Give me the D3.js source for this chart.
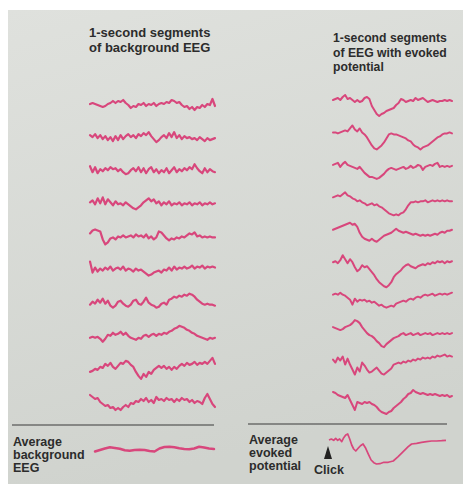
<!DOCTYPE html>
<html><head><meta charset="utf-8">
<script src="https://cdn.jsdelivr.net/npm/d3@7"></script>
<style>
html,body{margin:0;padding:0;background:#fff;}
svg{display:block;}
text{font-family:"Liberation Sans",Arial,Helvetica,sans-serif;font-weight:bold;fill:#2c2c2c;}
</style></head>
<body>
<script>
// ---- data (amplitude units, positive = up; 50 samples across each 1-second segment) ----
const leftTitle = ["1-second segments", "of background EEG"];
const rightTitle = ["1-second segments", "of EEG with evoked", "potential"];
const avgBgLabel = ["Average", "background", "EEG"];
const avgEvLabel = ["Average", "evoked", "potential"];
const stimulusLabel = "Click";

const bg1 = [0,1,0,-1,-2,-3,-2,0,1,3,1,3,2,4,1,-1,-4,-2,-3,0,-1,1,-2,0,-1,1,-2,0,1,0,2,1,4,3,1,2,-1,-3,-2,-5,-3,-6,-3,-4,-1,-3,0,-1,5,-2];
const bg2 = [2,0,3,-1,2,-2,1,-3,0,-4,1,-3,2,-2,1,3,0,2,-1,3,1,4,2,5,1,-2,-5,-3,0,2,-1,4,0,5,-1,2,-2,1,-1,0,-2,-1,-3,0,-2,-4,-1,-3,-2,-1];
const bg3 = [4,-2,3,-3,1,-1,2,0,3,1,2,-1,1,-2,-4,-3,0,2,-1,3,-2,2,-3,1,3,-2,1,-3,0,-2,2,-3,0,3,-2,1,-1,2,0,3,1,6,2,-1,-3,2,-2,1,-1,-2];
const bg4 = [1,3,-1,5,0,6,-1,4,1,-2,2,-1,0,-2,1,-1,-3,-5,-6,-4,-2,1,3,5,2,4,0,2,-2,1,-1,2,-2,0,-1,1,-2,0,-1,1,-2,0,-1,1,-2,0,-1,1,-1,0];
const bg5 = [3,6,7,6,5,-3,-8,-6,-2,-1,-3,0,-1,1,-1,0,1,-1,2,0,1,-1,2,-2,0,-3,-1,5,4,1,-2,-4,-2,-3,-1,-2,0,-1,1,3,2,4,0,1,-1,0,-1,0,-1,-1];
const bg6 = [8,-3,2,-2,1,-1,2,0,3,-1,1,2,0,3,-1,1,0,-2,1,-1,0,-2,-4,-6,-5,-3,-2,-1,-3,0,-1,2,-1,3,0,2,1,3,1,2,4,1,3,2,4,1,3,2,3,2];
const bg7 = [-2,1,-1,3,0,4,-1,2,-3,-5,-3,1,2,-1,-3,-4,-2,2,3,-1,-2,1,5,0,-2,-3,-5,-4,-1,0,-2,3,4,6,5,7,6,8,7,9,8,6,3,1,-1,-2,-1,-2,-2,-3];
const bg8 = [-2,-1,-2,-1,-3,-6,-3,1,0,3,1,2,4,1,3,0,-2,-3,-4,-2,-3,0,1,-1,1,2,0,2,1,3,2,4,5,7,8,10,9,8,6,5,3,2,0,-1,-2,-3,-4,-2,-3,-2];
const bg9 = [-3,-2,0,-1,2,1,5,3,6,2,0,3,6,5,8,7,4,2,-3,-7,-10,-5,-8,-3,-5,-1,1,3,1,3,0,2,-1,2,0,3,5,3,6,4,5,7,4,6,5,7,5,8,11,5];
const bg10 = [7,5,3,4,0,-2,-4,-3,-6,-5,-8,-6,-8,-5,-3,-5,-1,-2,1,0,3,1,4,0,2,-1,5,2,3,1,4,2,3,0,3,1,4,2,3,0,2,-1,1,0,-2,4,8,3,-2,-5];
const backgroundEEG = [bg1,bg2,bg3,bg4,bg5,bg6,bg7,bg8,bg9,bg10];

const ev1 = [0,1,2,0,3,5,1,2,0,-2,0,-2,-1,2,3,1,-6,-10,-14,-16,-14,-13,-11,-10,-9,-8,-5,-3,1,0,-2,-1,0,-1,2,0,1,2,0,-2,-1,0,-1,-2,-1,-1,0,-1,0,-1];
const ev2 = [0,0,-1,0,1,2,1,4,7,3,1,4,0,-2,-5,-9,-13,-16,-17,-15,-13,-10,-6,-2,-1,-2,-2,-3,-4,-5,-6,-8,-9,-12,-14,-15,-17,-15,-14,-13,-11,-9,-7,-5,-4,-2,-1,-1,0,-1];
const ev3 = [0,1,2,-2,1,3,0,-1,-2,-3,-4,-2,-5,-8,-10,-12,-12,-13,-14,-13,-11,-9,-6,-4,-3,-4,-5,-4,-3,-2,-4,-3,-1,-3,-2,0,-1,-5,-2,-1,0,-1,1,2,-2,-1,-2,-1,-2,-1];
const ev4 = [0,1,2,1,3,5,2,1,-1,-2,-4,-3,-5,-6,-8,-7,-6,-8,-7,-9,-10,-12,-14,-16,-17,-18,-17,-18,-16,-15,-12,-8,-5,-5,-4,-5,-4,-4,-3,-5,-4,-3,-4,-3,-4,-3,-4,-3,-4,-4];
const ev5 = [0,1,2,3,4,5,6,7,5,6,3,-3,-7,-9,-10,-11,-9,-11,-12,-10,-8,-6,-5,-4,-3,-1,1,-1,-2,-3,-2,-3,-4,-5,-4,-5,-6,-5,-6,-5,-6,-5,-4,-5,-3,-2,-3,-1,-1,0];
const ev6 = [0,1,-1,2,7,3,-1,3,0,-5,-9,-7,-3,-5,-4,-7,-10,-13,-17,-20,-22,-24,-25,-23,-20,-15,-12,-10,-8,-5,-3,-2,-4,-5,-6,-4,-3,-2,-3,-1,-2,0,-1,1,0,1,-1,1,0,1];
const ev7 = [0,1,0,2,0,-1,-3,-5,-10,-4,-7,-5,-6,-5,-7,-6,-8,-7,-9,-11,-10,-12,-13,-12,-11,-12,-9,-8,-7,-6,-7,-5,-4,-5,-3,-2,-3,-1,0,-1,0,1,-1,0,1,0,1,0,1,2];
const ev8 = [0,-1,-2,-3,-2,0,1,2,4,7,6,4,0,-3,-6,-8,-9,-11,-14,-16,-19,-20,-17,-15,-13,-11,-10,-9,-7,-6,-8,-7,-6,-8,-7,-6,-8,-7,-6,-7,-6,-8,-7,-6,-7,-6,-7,-6,-7,-6];
const ev9 = [0,-3,2,-1,3,-5,1,-5,-10,-15,-8,-12,-3,-6,-10,-13,-12,-10,-8,-11,-14,-15,-13,-11,-9,-5,-4,-3,-4,-2,-3,-1,-2,0,-1,1,0,2,1,2,1,3,2,4,3,4,5,3,4,3];
const ev10 = [0,-1,-3,-4,-5,-6,-3,-8,-13,-18,-10,-11,-12,-10,-11,-10,-12,-13,-15,-18,-20,-21,-22,-20,-19,-16,-14,-12,-10,-7,-5,-2,-1,2,0,-1,-2,-1,-2,-3,-2,-3,-2,-3,-4,-3,-4,-3,-5,-4];
const evokedEEG = [ev1,ev2,ev3,ev4,ev5,ev6,ev7,ev8,ev9,ev10];

const avgBackground = [-2.5,-1,0.5,1.7,1,0.3,-1.3,-1.7,-1,-0.7,-1,-2,-2.5,0.5,2,2.3,1.7,0.7,0,-0.3,0.5,2.2,1.5,0.5,0];
const avgEvokedTimes = [0,20,40,57,74,91,109,126,143,160,177,194,211,229,249,269,291,314,337,360,383,406,434,469,506,549,591,634,677,706,749,791,834,877,920,963,1000];
const avgEvokedValues = [0,1,-0.3,1.7,-0.3,1,-1.7,2.3,5,6,1,-5,-9,-11,-8.3,-5.7,-4,-8.3,-14.3,-20,-22.7,-24,-23.7,-22.3,-22.3,-21,-16.7,-11.7,-6.7,-4,-3.3,-2.3,-1.7,-1,-1,-0.7,-0.3];

// ---- drawing ----
const W = 467, H = 487;
const traceColor = "#d8477c";
const svg = d3.select("body").append("svg").attr("width", W).attr("height", H);

const defs = svg.append("defs");
const grad = defs.append("linearGradient").attr("id","paper").attr("x1",0).attr("y1",0).attr("x2",0.25).attr("y2",1);
grad.append("stop").attr("offset","0%").attr("stop-color","#dfe1dd");
grad.append("stop").attr("offset","100%").attr("stop-color","#d0d3ce");
svg.append("rect").attr("x",8).attr("y",10).attr("width",455).attr("height",474).attr("fill","url(#paper)");

// scales
const xLeft = d3.scaleLinear().domain([0,1]).range([90,215]);
const xRight = d3.scaleLinear().domain([0,1]).range([333,452]);
const rowLeft = d3.scaleLinear().domain([0,9]).range([104,402]);
const rowRight = d3.scaleLinear().domain([0,9]).range([100,392]);
const amp = d3.scaleLinear().domain([0,10]).range([0,-10]);

function drawTrace(values, xs, y0, width){
  const n = values.length;
  const line = d3.line()
    .x((d,i)=>xs(i/(n-1)))
    .y(d=>y0 + amp(d));
  svg.append("path").attr("d", line(values))
    .attr("fill","none").attr("stroke",traceColor)
    .attr("stroke-width",width).attr("stroke-linejoin","round").attr("stroke-linecap","round");
}

backgroundEEG.forEach((v,i)=>drawTrace(v, xLeft, rowLeft(i), 2.2));
evokedEEG.forEach((v,i)=>drawTrace(v, xRight, rowRight(i), 2.0));

// averages
const xAvgBg = d3.scaleLinear().domain([0,1]).range([95,214]);
drawTrace(avgBackground, xAvgBg, 449, 2.5);

const xAvgEv = d3.scaleLinear().domain([0,1000]).range([329,446]);
const evLine = d3.line().x((d,i)=>xAvgEv(avgEvokedTimes[i])).y(d=>440 + amp(d));
svg.append("path").attr("d", evLine(avgEvokedValues))
  .attr("fill","none").attr("stroke",traceColor).attr("stroke-width",1.7)
  .attr("stroke-linejoin","round");

// dividers
svg.append("line").attr("x1",12).attr("x2",214).attr("y1",425).attr("y2",425).attr("stroke","#3a3a3a").attr("stroke-width",1.1);
svg.append("line").attr("x1",248).attr("x2",447).attr("y1",424).attr("y2",424).attr("stroke","#3a3a3a").attr("stroke-width",1.1);

// titles
function textBlock(lines, x, y, lh, size){
  const t = svg.append("text").attr("x",x).attr("y",y).attr("font-size",size);
  lines.forEach((s,i)=>t.append("tspan").attr("x",x).attr("y",y+i*lh).text(s));
}
textBlock(leftTitle, 89, 37, 15, 13);
textBlock(rightTitle, 333, 42, 14.5, 12.2);
textBlock(avgBgLabel, 13, 446, 13, 12.5);
textBlock(avgEvLabel, 249, 444, 13, 12.5);

// click marker
const clickX = xAvgEv(0);
const tri = d3.path();
tri.moveTo(clickX-1,446); tri.lineTo(clickX+3,459); tri.lineTo(clickX-5,459); tri.closePath();
svg.append("path").attr("d", tri.toString()).attr("fill","#222");
svg.append("text").attr("x",314).attr("y",474).attr("font-size",12.5).text(stimulusLabel);
</script>
</body></html>
